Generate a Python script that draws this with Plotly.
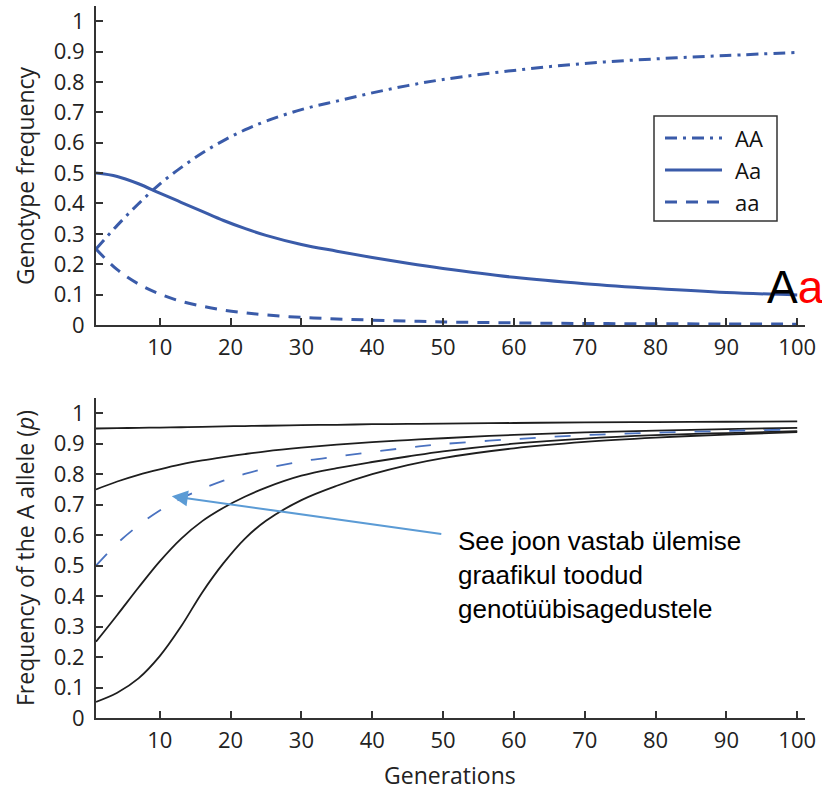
import plotly.graph_objects as go

# ---------------- data ----------------
generations = [1, 4, 7, 10, 13, 16, 19, 22, 25, 30, 35, 40, 45, 50, 60, 70, 80, 90, 100]

# top panel: genotype frequencies
AA = [0.250, 0.328, 0.399, 0.464, 0.518, 0.566, 0.607, 0.642, 0.671, 0.709, 0.737,
      0.764, 0.788, 0.808, 0.838, 0.861, 0.876, 0.887, 0.897]
Aa = [0.500, 0.489, 0.465, 0.434, 0.404, 0.374, 0.344, 0.318, 0.295, 0.265, 0.243,
      0.222, 0.203, 0.186, 0.157, 0.136, 0.120, 0.107, 0.099]
aa = [0.250, 0.182, 0.135, 0.102, 0.078, 0.062, 0.049, 0.040, 0.033, 0.025, 0.020,
      0.016, 0.013, 0.010, 0.007, 0.005, 0.004, 0.0034, 0.0028]

# bottom panel: allele frequency p for different starting values
p_095 = [0.950, 0.951, 0.952, 0.953, 0.954, 0.955, 0.957, 0.958, 0.959, 0.961, 0.962,
         0.964, 0.965, 0.966, 0.968, 0.970, 0.971, 0.972, 0.973]
p_075 = [0.750, 0.776, 0.798, 0.816, 0.832, 0.845, 0.856, 0.866, 0.875, 0.887, 0.897,
         0.905, 0.912, 0.918, 0.929, 0.937, 0.943, 0.948, 0.952]
p_050 = [0.500, 0.573, 0.632, 0.681, 0.720, 0.752, 0.779, 0.801, 0.819, 0.842, 0.858,
         0.873, 0.887, 0.899, 0.915, 0.928, 0.936, 0.942, 0.947]
p_025 = [0.250, 0.338, 0.428, 0.514, 0.588, 0.646, 0.690, 0.726, 0.756, 0.795, 0.820,
         0.840, 0.858, 0.875, 0.900, 0.917, 0.928, 0.935, 0.941]
p_005 = [0.053, 0.083, 0.130, 0.203, 0.300, 0.412, 0.508, 0.588, 0.647, 0.715, 0.762,
         0.800, 0.830, 0.853, 0.885, 0.906, 0.920, 0.930, 0.938]

x_ticks = [10, 20, 30, 40, 50, 60, 70, 80, 90, 100]
y_ticks = [0, 0.1, 0.2, 0.3, 0.4, 0.5, 0.6, 0.7, 0.8, 0.9, 1]
y_tick_text = ["0", "0.1", "0.2", "0.3", "0.4", "0.5", "0.6", "0.7", "0.8", "0.9", "1"]
legend_names = ["AA", "Aa", "aa"]

# ---------------- styling ----------------
BLUE = "#3a5ba9"
BLUE2 = "#4a72c0"
BLACK = "#1e1e1e"
AXC = "#333333"
FONT = "Open Sans"
DASH_AA = "12px,6px,3px,6px"
DASH_aa = "12px,9px"

W, H = 822, 790
ML, MR, MT, MB = 96, 17, 6, 72
PW, PH = W - ML - MR, H - MT - MB


def px(xp):
    return (xp - ML) / PW


def py(yp):
    return (H - MB - yp) / PH


fig = go.Figure()

top_styles = [DASH_AA, "solid", DASH_aa]
for name, series, dash in zip(legend_names, (AA, Aa, aa), top_styles):
    fig.add_trace(go.Scatter(x=generations, y=series, mode="lines", name=name,
                             line=dict(color=BLUE, width=3, dash=dash, shape="spline"),
                             xaxis="x", yaxis="y"))

for series in (p_095, p_075, p_025, p_005):
    fig.add_trace(go.Scatter(x=generations, y=series, mode="lines", showlegend=False,
                             line=dict(color=BLACK, width=1.8, shape="spline"),
                             xaxis="x2", yaxis="y2"))
fig.add_trace(go.Scatter(x=generations, y=p_050, mode="lines", showlegend=False,
                         line=dict(color=BLUE2, width=1.8, dash="16px,19px", shape="spline"),
                         xaxis="x2", yaxis="y2"))

axis_common = dict(showgrid=False, zeroline=False, showline=True, linecolor=AXC, linewidth=2,
                   ticks="inside", ticklen=7, tickwidth=1.5, tickcolor=AXC,
                   tickfont=dict(family=FONT, size=22, color="#222222"))

xa = dict(axis_common, range=[1, 101.1], tickvals=x_ticks, ticklabelstandoff=2)
ya = dict(axis_common, range=[0, 1.05], tickvals=y_ticks, ticktext=y_tick_text, ticklabelstandoff=5)

fig.update_layout(
    width=W, height=H,
    margin=dict(l=ML, r=MR, t=MT, b=MB),
    paper_bgcolor="white", plot_bgcolor="white",
    showlegend=False,
    xaxis=dict(xa, anchor="y", domain=[0, 1]),
    yaxis=dict(ya, anchor="x", domain=[py(325), 1]),
    xaxis2=dict(xa, anchor="y2", domain=[0, 1]),
    yaxis2=dict(ya, anchor="x2", domain=[0, py(398)]),
)

# ---- custom legend box (matches reference proportions) ----
shapes = [dict(type="rect", xref="paper", yref="paper", x0=px(654), x1=px(777),
               y0=py(221), y1=py(116), line=dict(color=AXC, width=1.5), fillcolor="white",
               layer="above")]
annotations = []
for i, (name, dash) in enumerate(zip(legend_names, top_styles)):
    yy = 138 + 32 * i
    shapes.append(dict(type="line", xref="paper", yref="paper", x0=px(665), x1=px(722),
                       y0=py(yy), y1=py(yy), line=dict(color=BLUE, width=3, dash=dash),
                       layer="above"))
    annotations.append(dict(text=name, xref="paper", yref="paper", x=px(733), y=py(yy),
                            xanchor="left", yanchor="middle", showarrow=False,
                            font=dict(family=FONT, size=22, color="#111111")))

annotations += [
    # y-axis titles
    dict(text="Genotype frequency", xref="paper", yref="paper",
         x=px(25), y=py(176), xanchor="center", yanchor="middle",
         textangle=-90, showarrow=False, font=dict(family=FONT, size=23, color="#222222")),
    dict(text="Frequency of the A allele (<i>p</i>)", xref="paper", yref="paper",
         x=px(25), y=py(558), xanchor="center", yanchor="middle",
         textangle=-90, showarrow=False, font=dict(family=FONT, size=23, color="#222222")),
    # x-axis title
    dict(text="Generations", xref="paper", yref="paper",
         x=px(450), y=py(775), xanchor="center", yanchor="middle",
         showarrow=False, font=dict(family=FONT, size=23, color="#222222")),
    # "Aa" label
    dict(text="A<span style='color:#ff0000'>a</span>", xref="paper", yref="paper",
         x=px(795), y=py(287), xanchor="center", yanchor="middle",
         showarrow=False, font=dict(family="Liberation Sans", size=46, color="#000000")),
    # arrow
    dict(text="", xref="x2", yref="y2", x=11.7, y=0.728, ax=271, ay=38,
         showarrow=True, arrowhead=2, arrowsize=1.6, arrowwidth=2, arrowcolor="#5b9bd5",
         standoff=0),
    # note text
    dict(text="See joon vastab ülemise<br>graafikul toodud<br>genotüübisagedustele",
         xref="paper", yref="paper", x=px(456), y=py(575),
         xanchor="left", yanchor="middle", align="left", showarrow=False,
         font=dict(family="Liberation Sans", size=26, color="#000000")),
]
fig.update_layout(shapes=shapes, annotations=annotations)

fig.write_html("out.html",
               config={"displayModeBar": False},
               post_script="document.body.style.margin='0px';"
                           "document.body.style.overflow='hidden';")
